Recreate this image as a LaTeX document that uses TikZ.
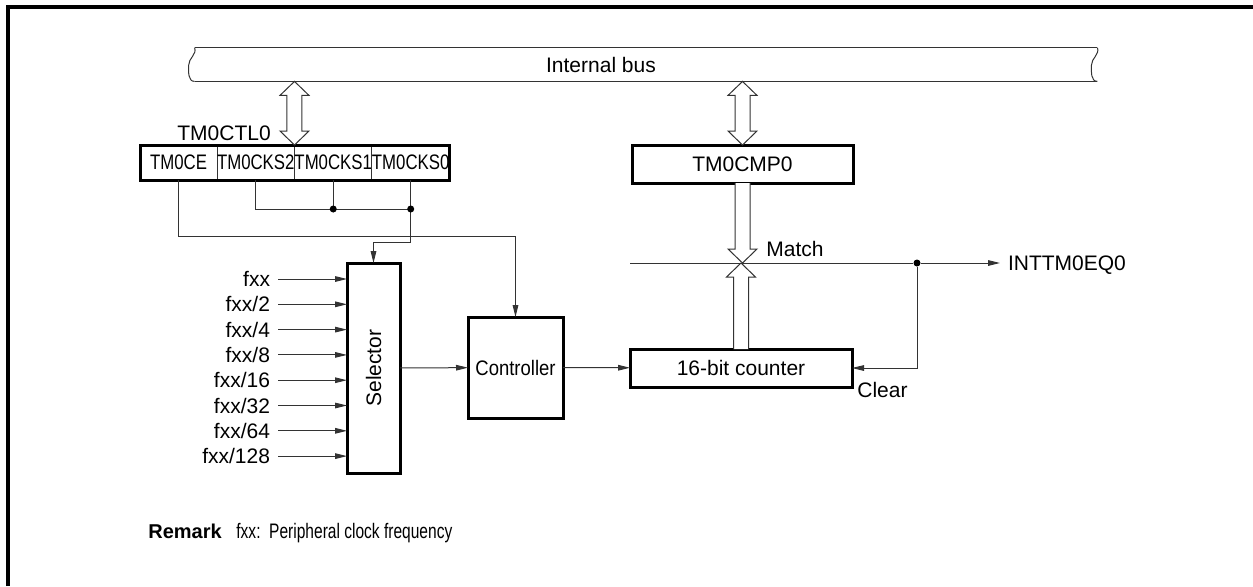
\documentclass[tikz,border=0pt]{standalone}
\usepackage{fontspec}
\setmainfont{Liberation Sans}
\usepackage{graphicx}
\usetikzlibrary{arrows.meta, positioning, calc}
\definecolor{Ink}{HTML}{000000}
\definecolor{Wire}{HTML}{333333}

\newcommand{\narrow}[1]{\scalebox{0.8}[1]{#1}}

% hollow bus arrow with two heads, #1 upper tip, #2 lower tip
\newcommand{\busarrow}[2]{%
  \draw[hollow] let \p1=#1, \p2=#2 in
    (\x1,\y1) -- ({\x1+7.25pt},{\y1-7pt}) -- ({\x1+3.75pt},{\y1-7pt})
    -- ({\x1+3.75pt},{\y2+7pt}) -- ({\x1+7.25pt},{\y2+7pt}) -- (\x1,\y2)
    -- ({\x1-7.25pt},{\y2+7pt}) -- ({\x1-3.75pt},{\y2+7pt})
    -- ({\x1-3.75pt},{\y1-7pt}) -- ({\x1-7.25pt},{\y1-7pt}) -- cycle;}

% hollow single arrow, #1 tail, #2 tip, #3 = 1 (down) or -1 (up)
\newcommand{\matcharrow}[3]{%
  \draw[hollow] let \p1=#1, \p2=#2 in
    ({\x1-3.75pt},\y1) -- ({\x1-3.75pt},{\y2+(#3)*7pt}) -- ({\x1-7.25pt},{\y2+(#3)*7pt})
    -- (\x1,\y2) -- ({\x1+7.25pt},{\y2+(#3)*7pt}) -- ({\x1+3.75pt},{\y2+(#3)*7pt})
    -- ({\x1+3.75pt},\y1);}

\begin{document}
\begin{tikzpicture}[
  x=0.5pt, y=-0.5pt,
  font=\fontsize{10.5pt}{12.6pt}\selectfont,
  wire/.style={draw=Wire, line width=0.5pt},
  sig/.style={wire, -{Triangle[length=6pt,width=2.8pt]}},
  block/.style={draw=Ink, line width=1.5pt, inner sep=0pt, outer sep=0pt, fill=white},
  cell/.style={draw=Wire, line width=0.5pt, minimum width=38.5pt, minimum height=17.5pt, inner sep=0pt, outer sep=0pt},
  hollow/.style={draw=Wire, line width=0.5pt, fill=white},
  dot/.style={circle, fill=Ink, inner sep=0pt, minimum size=3.5pt},
  lbl/.style={inner sep=0pt, outer sep=4pt, text height=7.5pt, text depth=0pt}
]
\useasboundingbox (0,0) rectangle (1253,586);
\draw[line width=2pt] (7.5,586) -- (7.5,7) -- (1253,7);

% internal bus
\node[minimum width=451pt, minimum height=16.5pt, inner sep=0pt] (bus) at (646,64.5) {};
\node[inner sep=0pt] (buslabel) at (601,64.5) {Internal bus};
\draw[wire] (bus.north west) -- (bus.north east) (bus.south west) -- (bus.south east);
\foreach \e in {west,east}
  \draw[wire] (bus.north \e) to[out=-70,in=90] ([xshift=-3pt,yshift=8pt]bus.south \e) to[out=-90,in=180] (bus.south \e);

% control register
\node[anchor=base west, inner sep=0pt] (ctl) at (177,140) {TM0CTL0};
\node[cell] (ce) at (178.5,162.5) {\narrow{TM0CE}};
\node[cell, right=0pt of ce] (cks2) {\narrow{TM0CKS2}};
\node[cell, right=0pt of cks2] (cks1) {\narrow{TM0CKS1}};
\node[cell, right=0pt of cks1] (cks0) {\narrow{TM0CKS0}};
\draw[line width=1.5pt] (ce.north west) rectangle (cks0.south east);

\node[block, minimum width=110.5pt, minimum height=19pt] (cmp) at (742.5,164) {TM0CMP0};

\busarrow{(bus.south -| cks1.north west)}{(cks1.north west)}
\busarrow{(bus.south -| cmp.north)}{(cmp.north)}

% blocks
\node[block, minimum width=26.5pt, minimum height=105pt] (sel) at (373.5,368) {\rotatebox{90}{Selector}};
\node[block, minimum width=47.5pt, minimum height=50.5pt] (ctrl) at (515.5,367.5) {\scalebox{0.88}[1]{Controller}};
\node[block, minimum width=111pt, minimum height=19pt] (counter) at (741,368) {16-bit counter};

% clock inputs
\foreach \lab [count=\i from 0] in {fxx, fxx/2, fxx/4, fxx/8, fxx/16, fxx/32, fxx/64, fxx/128}
{
  \node[lbl, anchor=east] (in\i) at (278,279+25.3*\i) {\lab};
  \draw[sig] (in\i.east) -- (in\i.east -| sel.west);
}

\draw[sig] (sel) -- (ctrl);
\draw[sig] (ctrl) -- (counter);

% register wiring
\coordinate (cksrow) at (0,209);
\coordinate (cerow) at (0,236);
\coordinate (selrow) at (0,242);
\coordinate (matchrow) at (0,263);
\draw[wire] (cks2.south) |- (cks0.south |- cksrow);
\draw[wire] (cks1.south) -- (cks1.south |- cksrow);
\draw[sig] (cks0.south) -- (cks0.south |- selrow) -| (sel.north);
\draw[sig] (ce.south) -- (ce.south |- cerow) -| (ctrl.north);
\node[dot] (d1) at (cks1.south |- cksrow) {};
\node[dot] (d2) at (cks0.south |- cksrow) {};

% match and clear
\node[dot] (tap) at (917,263) {};
\node[lbl, anchor=west] (irq) at (1000,263) {INTTM0EQ0};
\draw[wire] (counter.west |- matchrow) -- (tap);
\draw[sig] (tap) -- (irq);
\draw[sig] (tap) |- (counter.east);
\matcharrow{(cmp.south)}{(cmp.south |- matchrow)}{1}
\matcharrow{(counter.north)}{(counter.north |- matchrow)}{-1}
\node[anchor=base west, inner sep=0pt] (match) at (766,256) {Match};
\node[anchor=base west, inner sep=0pt] (clear) at (857,397) {Clear};

% remark
\node[anchor=base west, inner sep=0pt, font=\fontsize{10pt}{12pt}\selectfont\bfseries] (remark) at (148,538) {Remark};
\node[anchor=base west, inner sep=0pt] (remtxt) at (236,538) {\scalebox{0.74}[1]{fxx:~~Peripheral clock frequency}};
\end{tikzpicture}
\end{document}
